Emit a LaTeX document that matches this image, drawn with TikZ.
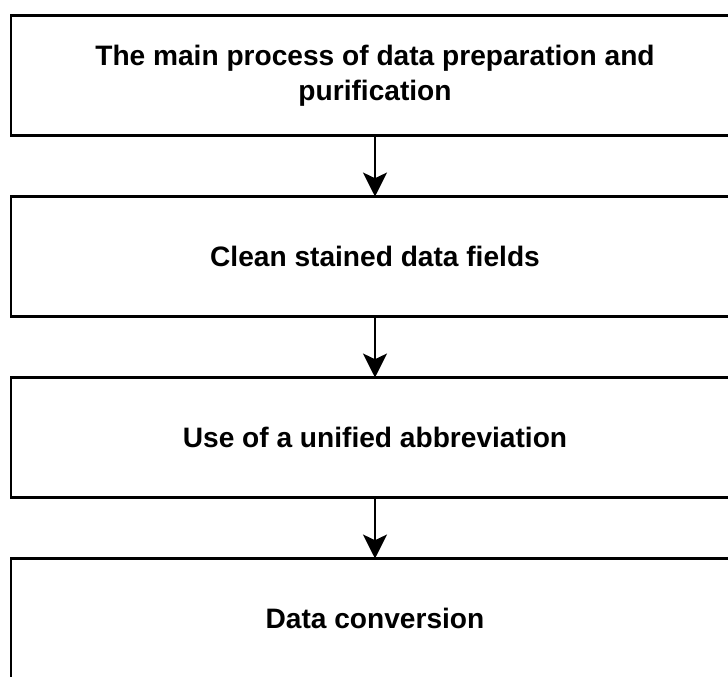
\documentclass[tikz,border=0pt]{standalone}
\usepackage{fontspec}
\setmainfont{Liberation Sans}
\usetikzlibrary{positioning,arrows.meta}

\begin{document}
\begin{tikzpicture}[
  font=\fontsize{20}{25}\selectfont\bfseries,
  stagebox/.style={draw, line width=2.1pt, minimum width=18.2cm, minimum height=3cm,
    align=center, inner sep=0pt, outer sep=0pt},
  flowarrow/.style={line width=1.9pt, -{Stealth[length=17pt, width=17pt, inset=4pt]}},
  node distance=1.525cm
]
% page frame, boxes run off the right and bottom edges
\path[use as bounding box, clip] (0,0) rectangle (18.2,-16.925);
\fill[white] (0,0) rectangle (18.2,-16.925);

\node[stagebox] (prep) at (9.375,-1.8875) {The main process of data preparation and\\purification};
\node[stagebox, below=of prep] (clean) {Clean stained data fields};
\node[stagebox, below=of clean] (abbr) {Use of a unified abbreviation};
\node[stagebox, below=of abbr] (conv) {Data conversion};

\draw[flowarrow] (prep) -- (clean);
\draw[flowarrow] (clean) -- (abbr);
\draw[flowarrow] (abbr) -- (conv);
\end{tikzpicture}
\end{document}
